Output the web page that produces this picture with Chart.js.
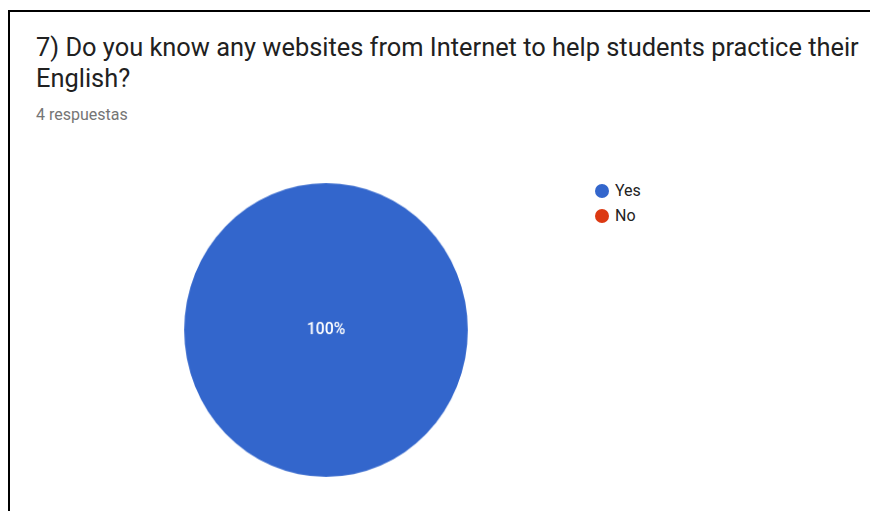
<!DOCTYPE html>
<html>
<head>
<meta charset="utf-8">
<script src="https://cdn.jsdelivr.net/npm/chart.js@4"></script>
<style>
  html, body { margin: 0; padding: 0; background: #fff; width: 870px; height: 511px; overflow: hidden; }
  #frame { position: absolute; left: 8px; top: 10px; width: 880px; height: 520px; border-left: 2.5px solid #000; border-top: 2px solid #000; }
  #title { position: absolute; left: 36px; top: 32px; font-family: Roboto, "Noto Sans", sans-serif; font-size: 25.4px; line-height: 31px; color: #212121; width: 830px; white-space: nowrap; }
  #sub { position: absolute; left: 36px; top: 105px; font-family: Roboto, "Noto Sans", sans-serif; font-size: 16px; color: #757575; }
  #pieWrap { position: absolute; left: 181.5px; top: 185.5px; width: 288px; height: 288px; transform: scale(0.985, 1.02); }
  #legend { position: absolute; left: 595px; top: 181px; font-family: Roboto, "Noto Sans", sans-serif; font-size: 16px; color: #222; }
  .li { height: 25px; line-height: 20px; display: flex; align-items: center; }
  .dot { width: 14px; height: 14px; border-radius: 50%; margin-right: 6px; margin-top: -5px; }
  .li span { margin-top: -5px; }
</style>
</head>
<body>
<div id="frame"></div>
<div id="title">7) Do you know any websites from Internet to help students practice their<br>English?</div>
<div id="sub">4 respuestas</div>
<div id="pieWrap"><canvas id="c"></canvas></div>
<div id="legend"></div>
<script>
const categories = ["Yes", "No"];
const counts = [4, 0];
const colors = ["#3366CC", "#DC3912"];

const total = counts.reduce((a, b) => a + b, 0);

const legendEl = document.getElementById('legend');
categories.forEach((c, i) => {
  const d = document.createElement('div');
  d.className = 'li';
  d.innerHTML = '<div class="dot" style="background:' + colors[i] + '"></div><span>' + c + '</span>';
  legendEl.appendChild(d);
});

const labelPlugin = {
  id: 'pctLabels',
  afterDatasetsDraw(chart) {
    const ctx = chart.ctx;
    const meta = chart.getDatasetMeta(0);
    ctx.save();
    ctx.fillStyle = '#fff';
    ctx.font = '500 16px Roboto, "Noto Sans", sans-serif';
    ctx.textAlign = 'center';
    ctx.textBaseline = 'middle';
    meta.data.forEach((arc, i) => {
      const v = counts[i];
      if (!v) return;
      const pct = Math.round(v / total * 100) + '%';
      let x, y;
      if (v === total) { x = arc.x; y = arc.y; }
      else { const p = arc.tooltipPosition(); x = p.x; y = p.y; }
      ctx.fillText(pct, x, y);
    });
    ctx.restore();
  }
};

new Chart(document.getElementById('c'), {
  type: 'pie',
  data: {
    labels: categories,
    datasets: [{ data: counts, backgroundColor: colors, borderWidth: 0 }]
  },
  options: {
    responsive: true,
    maintainAspectRatio: false,
    animation: false,
    layout: { padding: 0 },
    plugins: { legend: { display: false }, tooltip: { enabled: false } }
  },
  plugins: [labelPlugin]
});
</script>
</body>
</html>
